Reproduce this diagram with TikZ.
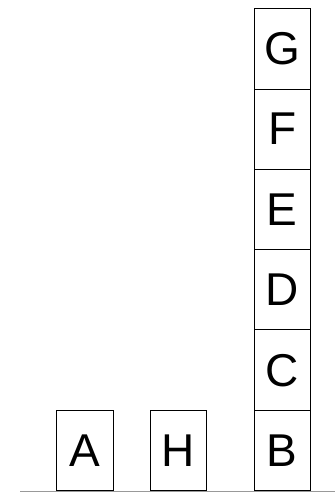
\documentclass[tikz,border=0pt]{standalone}
\usepackage{fontspec}
\setmainfont{Liberation Sans}
\begin{document}
\begin{tikzpicture}[x=1pt,y=-1pt,
  blk/.style={draw=black,line width=0.9pt,minimum width=56.5pt,minimum height=80.3pt,inner sep=0pt,outer sep=0pt,font=\fontsize{46}{46}\selectfont,text depth=0pt,anchor=south west},
  ground/.style={draw=gray!80,line width=1pt}]
\useasboundingbox (0,0) rectangle (335,492);
\coordinate (gl) at (20,491);
\coordinate (gr) at (335,491);
\draw[ground] (gl) -- (gr);
\node[blk] (A) at (56.8,490.5) {A};
\node[blk] (H) at (150.3,490.5) {H};
\node[blk] (B) at (254,490.5) {B};
\node[blk,anchor=south] (C) at (B.north) {C};
\node[blk,anchor=south] (D) at (C.north) {D};
\node[blk,anchor=south] (E) at (D.north) {E};
\node[blk,anchor=south] (F) at (E.north) {F};
\node[blk,anchor=south] (G) at (F.north) {G};
\end{tikzpicture}
\end{document}
